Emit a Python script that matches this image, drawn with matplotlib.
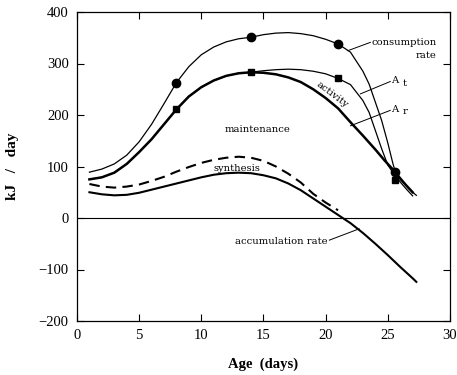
import matplotlib
matplotlib.use("Agg")
import matplotlib.pyplot as plt

# age (days) and rates (kJ/day)
cons_x = [1, 2, 3, 4, 5, 6, 7, 8, 9, 10, 11, 12, 13, 14, 15, 16, 17, 18, 19, 20,
          21, 22, 23, 23.5, 24, 24.5, 25, 25.4, 25.6, 26, 26.5, 27, 27.3]
cons_y = [89, 95, 105, 122, 148, 182, 222, 263, 294, 317, 332, 342, 348, 351, 356, 359, 360, 358, 354, 347,
          338, 322, 285, 260, 225, 190, 146, 107, 90, 75, 62, 50, 44]

at_x = [1, 2, 3, 4, 5, 6, 7, 8, 9, 10, 11, 12, 13, 14, 15, 16, 17, 18, 19, 20,
        21, 22, 23, 23.5, 24, 24.5, 25, 25.5, 26, 26.5, 27]
at_y = [75, 79, 88, 105, 128, 153, 182, 211, 236, 254, 267, 276, 281, 283, 286, 288, 289, 288, 285, 280,
        271, 259, 228, 205, 170, 135, 103, 85, 70, 56, 43]

ar_x = [1, 2, 3, 4, 5, 6, 7, 8, 9, 10, 11, 12, 13, 14, 15, 16, 17, 18, 19, 20,
        21, 22, 23, 24, 24.7, 25, 25.5, 26, 26.5, 27]
ar_y = [75, 79, 88, 105, 128, 153, 182, 211, 236, 254, 267, 276, 281, 283, 282, 279, 273, 264, 250, 233,
        213, 186, 160, 133, 113, 105, 92, 77, 63, 50]

syn_x = [1, 2, 3, 4, 5, 6, 7, 8, 9, 10, 11, 12, 13, 14, 15, 16, 17, 18, 19, 20, 21]
syn_y = [66, 61, 59, 61, 65, 72, 80, 90, 99, 107, 113, 117, 119, 117, 111, 100, 86, 69, 47, 30, 15]

acc_x = [1, 2, 3, 4, 5, 6, 7, 8, 9, 10, 11, 12, 13, 14, 15, 16, 17, 18, 19, 20,
         21, 22, 23, 24, 25, 26, 27, 27.3]
acc_y = [50, 46, 44, 45, 49, 55, 61, 67, 73, 79, 84, 87, 88, 87, 83, 77, 67, 54, 38, 22,
         6, -10, -29, -50, -72, -95, -117, -124]

obs_x = [8, 14, 21, 25.6]
obs_cons = [263, 351, 338, 90]
obs_at = [211, 283, 271, 73]

serif = "Liberation Serif"

fig = plt.figure(figsize=(4.57, 3.75), dpi=100)
ax = fig.add_axes([0.1685, 0.144, 0.816, 0.824])

ax.axhline(0, color="black", lw=0.8)
ax.plot(cons_x, cons_y, color="black", lw=0.9)
ax.plot(at_x, at_y, color="black", lw=0.9)
ax.plot(ar_x, ar_y, color="black", lw=1.8)
ax.plot(syn_x, syn_y, color="black", lw=1.5, ls=(0, (5, 3)))
ax.plot(acc_x, acc_y, color="black", lw=1.5)
ax.plot(obs_x, obs_cons, "o", color="black", ms=6)
ax.plot(obs_x, obs_at, "s", color="black", ms=4.2)

ax.set_xlim(0, 30)
ax.set_ylim(-200, 400)
ax.set_xticks(range(0, 31, 5))
ax.set_yticks(range(-200, 401, 100))
ax.tick_params(direction="in", top=True, right=True, length=5, width=0.8,
               labelsize=10.5, pad=6)
ax.set_xticklabels(["0", "5", "10", "15", "20", "25", "30"])
ax.set_yticklabels(["\u2212200", "\u2212100", "0", "100", "200", "300", "400"])
for lab in ax.get_xticklabels() + ax.get_yticklabels():
    lab.set_fontfamily(serif)
for sp in ax.spines.values():
    sp.set_linewidth(0.9)

ax.set_xlabel("Age  (days)", family=serif, fontweight="bold", fontsize=10.5, labelpad=11)
ax.set_ylabel("kJ   /   day", family=serif, fontweight="bold", fontsize=11, labelpad=14)

lab_kw = dict(family="DejaVu Serif", fontsize=7.2, color="black")
ax.text(23.7, 341, "consumption", ha="left", va="center", **lab_kw)
ax.text(28.9, 316, "rate", ha="right", va="center", **lab_kw)
ax.plot([21.8, 23.6], [325, 341], color="black", lw=0.7)
ax.text(25.3, 267, "A", ha="left", va="center", **lab_kw)
ax.text(26.2, 262, "t", ha="left", va="center", **lab_kw)
ax.plot([22.8, 25.2], [241, 265], color="black", lw=0.7)
ax.text(25.3, 211, "A", ha="left", va="center", **lab_kw)
ax.text(26.2, 206, "r", ha="left", va="center", **lab_kw)
ax.plot([22.0, 25.2], [179, 209], color="black", lw=0.7)
ax.text(20.5, 239, "activity", ha="center", va="center", rotation=-37, **lab_kw)
ax.text(14.5, 172, "maintenance", ha="center", va="center", **lab_kw)
ax.text(12.9, 97, "synthesis", ha="center", va="center", **lab_kw)
ax.text(16.4, -45, "accumulation rate", ha="center", va="center", **lab_kw)
ax.plot([20.3, 22.7], [-43, -21], color="black", lw=0.7)

fig.savefig("out.png", dpi=100)
